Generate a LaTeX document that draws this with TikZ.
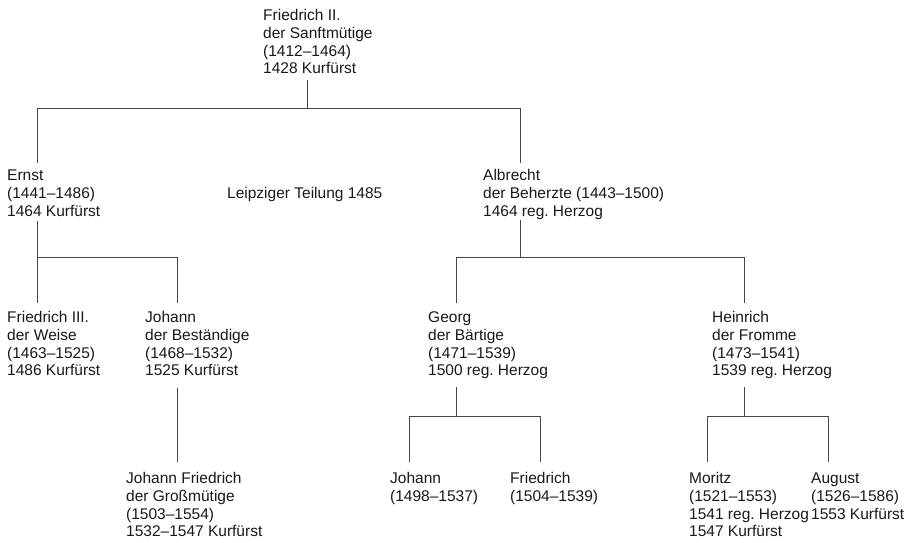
\documentclass[tikz,border=0pt]{standalone}
\usepackage{fontspec}
\setmainfont{Liberation Sans}
\frenchspacing
\newcommand\stammtext[1]{\begin{tabular}[t]{@{}l@{}}#1\end{tabular}}
\begin{document}
\begin{tikzpicture}[x=1pt,y=-1pt,
  person/.style={anchor=base west,inner sep=0pt,font=\fontsize{15.5}{17.8}\selectfont\frenchspacing,text=black!90},
  link/.style={draw=black!72,line width=0.9pt}]
\useasboundingbox[fill=white] (0,0) rectangle (913,542);

% persons
\node[person] (f2) at (263,20.5) {\stammtext{Friedrich II.\\der Sanftmütige\\(1412–1464)\\1428 Kurfürst}};
\node[person] (ernst) at (7,180.5) {\stammtext{Ernst\\(1441–1486)\\1464 Kurfürst}};
\node[person] (leip) at (227,198.3) {Leipziger Teilung 1485};
\node[person] (albrecht) at (483,180.5) {\stammtext{Albrecht\\der Beherzte (1443–1500)\\1464 reg. Herzog}};
\node[person] (f3) at (7,322.5) {\stammtext{Friedrich III.\\der Weise\\(1463–1525)\\1486 Kurfürst}};
\node[person] (johann) at (145,322.5) {\stammtext{Johann\\der Beständige\\(1468–1532)\\1525 Kurfürst}};
\node[person] (georg) at (428,322.5) {\stammtext{Georg\\der Bärtige\\(1471–1539)\\1500 reg. Herzog}};
\node[person] (heinrich) at (712,322.5) {\stammtext{Heinrich\\der Fromme\\(1473–1541)\\1539 reg. Herzog}};
\node[person] (jf) at (126,483.5) {\stammtext{Johann Friedrich\\der Großmütige\\(1503–1554)\\1532–1547 Kurfürst}};
\node[person] (johannG) at (390,483.5) {\stammtext{Johann\\(1498–1537)}};
\node[person] (friedrichG) at (510,483.5) {\stammtext{Friedrich\\(1504–1539)}};
\node[person] (moritz) at (689,483.5) {\stammtext{Moritz\\(1521–1553)\\1541 reg. Herzog\\1547 Kurfürst}};
\node[person] (august) at (811,483.5) {\stammtext{August\\(1526–1586)\\1553 Kurfürst}};

% connector points
\coordinate (f2d) at (307,80);
\coordinate (f2j) at (307,108);
\coordinate (eL) at (37,108);
\coordinate (aR) at (520,108);
\coordinate (ernstU) at (37,163);
\coordinate (albrechtU) at (520,163);
\coordinate (ernstD) at (37,221);
\coordinate (ernstJ) at (37,257);
\coordinate (johannJ) at (177,257);
\coordinate (f3U) at (37,303);
\coordinate (johannU) at (177,303);
\coordinate (johannD) at (177,388);
\coordinate (jfU) at (177,462);
\coordinate (albrechtD) at (520,220);
\coordinate (albrechtJ) at (520,257);
\coordinate (georgJ) at (456,257);
\coordinate (heinrichJ) at (744,257);
\coordinate (georgU) at (456,303);
\coordinate (heinrichU) at (744,303);
\coordinate (georgD) at (456,387);
\coordinate (georgK) at (456,416);
\coordinate (johannGJ) at (409,416);
\coordinate (friedrichGJ) at (540,416);
\coordinate (johannGU) at (409,462);
\coordinate (friedrichGU) at (540,462);
\coordinate (heinrichD) at (744,387);
\coordinate (heinrichK) at (744,416);
\coordinate (moritzJ) at (707,416);
\coordinate (augustJ) at (828,416);
\coordinate (moritzU) at (707,462);
\coordinate (augustU) at (828,462);

% connectors
\draw[link] (f2d) -- (f2j);
\draw[link] (ernstU) -- (eL) -- (aR) -- (albrechtU);
\draw[link] (ernstD) -- (f3U);
\draw[link] (ernstJ) -- (johannJ) -- (johannU);
\draw[link] (johannD) -- (jfU);
\draw[link] (albrechtD) -- (albrechtJ);
\draw[link] (georgU) -- (georgJ) -- (heinrichJ) -- (heinrichU);
\draw[link] (georgD) -- (georgK);
\draw[link] (johannGU) -- (johannGJ) -- (friedrichGJ) -- (friedrichGU);
\draw[link] (heinrichD) -- (heinrichK);
\draw[link] (moritzU) -- (moritzJ) -- (augustJ) -- (augustU);
\end{tikzpicture}
\end{document}
